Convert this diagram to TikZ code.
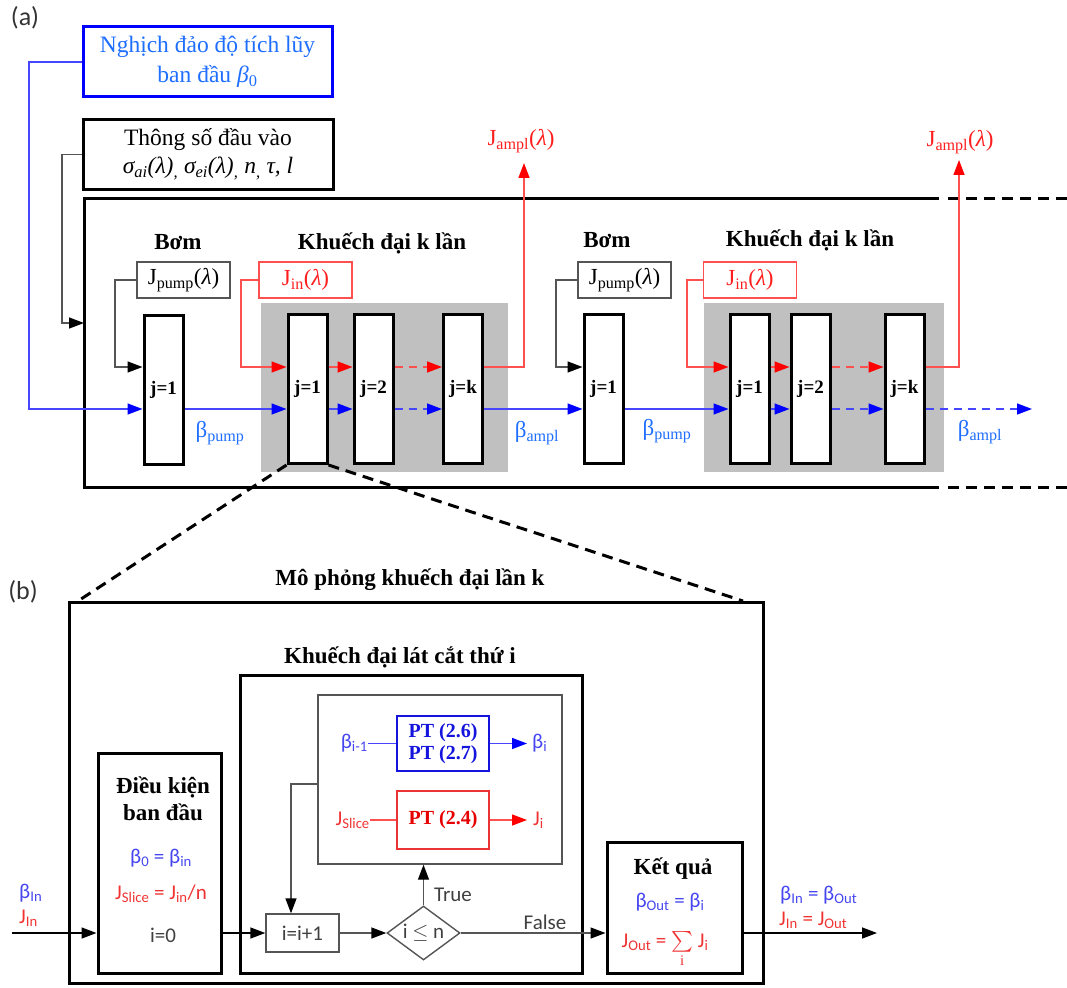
\documentclass[tikz,border=0pt]{standalone}
\usepackage{amsmath}
\usepackage{fontspec}
\setmainfont{Liberation Serif}
\newfontfamily\calib{Carlito}
\usetikzlibrary{arrows.meta,shapes.geometric}
\definecolor{bl}{RGB}{70,70,255}
\definecolor{bhead}{RGB}{0,0,255}
\definecolor{tbl}{RGB}{30,110,255}
\definecolor{rl}{RGB}{255,80,80}
\definecolor{rhead}{RGB}{255,0,0}
\definecolor{trd}{RGB}{255,30,30}
\definecolor{gl}{RGB}{85,85,85}
\definecolor{shd}{RGB}{192,192,192}
\definecolor{sbl}{RGB}{70,70,240}
\definecolor{srd}{RGB}{240,50,50}
\definecolor{ptb}{RGB}{20,20,220}
\definecolor{ptr}{RGB}{230,0,0}
\tikzset{
 bf/.style={font=\fontsize{23}{26}\selectfont\bfseries, inner sep=0pt},
 jbox/.style={draw, line width=3pt, fill=white, minimum width=39pt, minimum height=149pt, inner sep=0pt, font=\fontsize{19}{22}\selectfont\bfseries},
 thinbox/.style={draw=gl, line width=1.4pt, inner sep=0pt, minimum width=93pt, minimum height=36pt, font=\fontsize{23}{26}\selectfont},
 redbox/.style={thinbox, draw=rl, text=trd},
 bline/.style={draw=bl, line width=1.4pt},
 barr/.style={bline, -{Triangle[length=15pt,width=11pt,color=bhead]}},
 rline/.style={draw=rl, line width=1.4pt},
 rarr/.style={rline, -{Triangle[length=15pt,width=11pt,color=rhead]}},
 garr/.style={draw=gl, line width=1.4pt, -{Triangle[length=15pt,width=11pt,color=black]}},
 karr/.style={draw=black, line width=1.5pt, -{Triangle[length=15pt,width=11pt,color=black]}},
 dsh/.style={dash pattern=on 8pt off 6pt},
 bigdash/.style={line width=3pt, dash pattern=on 11pt off 7pt},
 serlab/.style={font=\fontsize{23}{26}\selectfont, inner sep=0pt},
 sanslab/.style={font=\calib\fontsize{21}{24}\selectfont, inner sep=0pt},
 thick3/.style={draw, line width=3pt, inner sep=0pt},
}
\begin{document}
\begin{tikzpicture}[x=1pt,y=-1pt]
\useasboundingbox (0,0) rectangle (1067,987);
% ---------------- part (a) ----------------
\node[font=\calib\fontsize{26}{30}\selectfont, text=black!80, inner sep=0pt] (la) at (25,18) {(a)};
\node[thick3, draw=bhead, minimum width=249pt, minimum height=70pt, align=center, text=tbl, font=\fontsize{23.5}{30}\selectfont] (init) at (207.5,62) {Nghịch đảo độ tích lũy\\ban đầu \textit{β}\textsubscript{0}};
\node[thick3, minimum width=250pt, minimum height=69pt, align=center, font=\fontsize{23.5}{28}\selectfont] (param) at (208,154.5) {Thông số đầu vào\\{\itshape σ\textsubscript{ai}(λ)\textsubscript{,} σ\textsubscript{ei}(λ)\textsubscript{,} n\textsubscript{,} τ, l}};
\draw[line width=3pt] (939,198) -- (84,198) -- (84,487) -- (939,487);
\draw[bigdash] (948,198) -- (1067,198);
\draw[bigdash] (948,487) -- (1067,487);
\coordinate (fl) at (84,323);
\coordinate (yb) at (0,409);
\coordinate (yr) at (0,367);
\fill[shd] (261,303) rectangle (508,472);
\fill[shd] (704,303) rectangle (944,472);
\node[jbox] (p1) at (163.5,389.5) {j=1};
\node[jbox] (a11) at (307.5,389) {j=1};
\node[jbox] (a12) at (373.5,389) {j=2};
\node[jbox] (a1k) at (463,389) {j=k};
\node[jbox] (p2) at (603.5,389) {j=1};
\node[jbox] (a21) at (749.5,389) {j=1};
\node[jbox] (a22) at (810.5,389) {j=2};
\node[jbox] (a2k) at (904.5,389) {j=k};
\node[thinbox] (jp1) at (183.5,280) {J\textsubscript{pump}(\textit{λ})};
\node[redbox] (jin1) at (305.5,280) {J\textsubscript{in}(\textit{λ})};
\node[thinbox] (jp2) at (624.5,280) {J\textsubscript{pump}(\textit{λ})};
\node[redbox] (jin2) at (750,280) {J\textsubscript{in}(\textit{λ})};
\node[bf] (t1) at (178,242) {Bơm};
\node[bf] (t2) at (382,243) {Khuếch đại k lần};
\node[bf] (t3) at (607,240) {Bơm};
\node[bf] (t4) at (810,240) {Khuếch đại k lần};
\draw[barr] (init.west) -- (29,62) |- (p1.west |- yb);
\draw[garr] (param.west) -- (62,154.5) |- (fl);
\draw[garr] (jp1.west) -- (115,280) |- (p1.west |- yr);
\draw[rarr] (jin1.west) -- (241,280) |- (a11.west |- yr);
\draw[barr] (p1.east |- yb) -- (a11.west |- yb);
\draw[barr] (a11.east |- yb) -- (a12.west |- yb);
\draw[barr,dsh] (a12.east |- yb) -- (a1k.west |- yb);
\draw[barr] (a1k.east |- yb) -- (p2.west |- yb);
\draw[rarr] (a11.east |- yr) -- (a12.west |- yr);
\draw[rarr,dsh] (a12.east |- yr) -- (a1k.west |- yr);
\coordinate (ja1) at (524,163);
\draw[rarr] (a1k.east |- yr) -| (ja1);
\node[serlab, text=trd] (jl1) at (521,141) {J\textsubscript{ampl}(\textit{λ})};
\draw[garr] (jp2.west) -- (556,280) |- (p2.west |- yr);
\draw[rarr] (jin2.west) -- (687,280) |- (a21.west |- yr);
\draw[barr] (p2.east |- yb) -- (a21.west |- yb);
\draw[barr] (a21.east |- yb) -- (a22.west |- yb);
\draw[barr,dsh] (a22.east |- yb) -- (a2k.west |- yb);
\coordinate (bend) at (1032,409);
\draw[barr,dsh] (a2k.east |- yb) -- (bend);
\draw[rarr] (a21.east |- yr) -- (a22.west |- yr);
\draw[rarr,dsh] (a22.east |- yr) -- (a2k.west |- yr);
\coordinate (ja2) at (959,160);
\draw[rarr] (a2k.east |- yr) -| (ja2);
\node[serlab, text=trd] (jl2) at (960,142) {J\textsubscript{ampl}(\textit{λ})};
\node[serlab, text=tbl] (bp1) at (220,433) {β\textsubscript{pump}};
\node[serlab, text=tbl] (ba1) at (537,433) {β\textsubscript{ampl}};
\node[serlab, text=tbl] (bp2) at (667,431) {β\textsubscript{pump}};
\node[serlab, text=tbl] (ba2) at (980,432) {β\textsubscript{ampl}};
\coordinate (bl) at (78,601);
\coordinate (br) at (743,601);
\draw[bigdash] (a11.south west) -- (bl);
\draw[bigdash] (a11.south east) -- (br);
% ---------------- part (b) ----------------
\node[font=\calib\fontsize{26}{30}\selectfont, text=black!80, inner sep=0pt] (lb) at (23,592) {(b)};
\node[bf] (tb) at (410,580) {Mô phỏng khuếch đại lần k};
\node[thick3, minimum width=694pt, minimum height=381pt] (bfr) at (416,792.5) {};
\node[bf] (tk) at (400,657) {Khuếch đại lát cắt thứ i};
\node[thick3, minimum width=342pt, minimum height=298pt] (kd) at (411,824) {};
\node[draw=gl, line width=1.4pt, inner sep=0pt, minimum width=244pt, minimum height=169pt] (inner) at (440,779.5) {};
\node[draw=ptb, line width=1.4pt, inner sep=0pt, minimum width=92pt, minimum height=55pt, align=center, text=ptb, font=\fontsize{20}{22}\selectfont\bfseries] (pt1) at (443,743.5) {PT (2.6)\\PT (2.7)};
\node[draw=ptr!80, line width=1.4pt, inner sep=0pt, minimum width=92pt, minimum height=58pt, text=ptr, font=\fontsize{20}{22}\selectfont\bfseries] (pt2) at (443,820) {PT (2.4)};
\node[sanslab, text=sbl, anchor=east] (bim) at (368,743.5) {β\textsubscript{i-1}};
\draw[bline] (bim.east) -- (pt1.west);
\coordinate (bo) at (527,743.5);
\draw[barr] (pt1.east) -- (bo);
\node[sanslab, text=sbl, anchor=west] (bi) at (532,743.5) {β\textsubscript{i}};
\node[sanslab, text=srd, anchor=east] (js) at (370,820) {J\textsubscript{Slice}};
\draw[rline] (js.east) -- (pt2.west);
\coordinate (jo) at (527,820);
\draw[rarr] (pt2.east) -- (jo);
\node[sanslab, text=srd, anchor=west] (ji) at (533,820) {J\textsubscript{i}};
\node[draw=gl, line width=1.4pt, inner sep=0pt, minimum width=73pt, minimum height=38pt, font=\calib\fontsize{21}{24}\selectfont, text=black!75] (inc) at (302.5,933) {i=i+1};
\node[diamond, draw=gl, line width=1.4pt, inner sep=0pt, minimum width=73pt, minimum height=54pt, aspect=1.35, font=\calib\fontsize{21}{24}\selectfont, text=black!75] (cond) at (423.5,933) {i $\leq$ n};
\node[thick3, minimum width=123pt, minimum height=220pt] (dk) at (159.5,863) {};
\node[thick3, minimum width=135pt, minimum height=131pt] (kq) at (674.5,907.5) {};
\node[bf] (dk1) at (163,787) {Điều kiện};
\node[bf] (dk2) at (163,812) {ban đầu};
\node[sanslab, text=sbl] (dk3) at (161,858) {β\textsubscript{0} = β\textsubscript{in}};
\node[sanslab, text=srd] (dk4) at (161,894) {J\textsubscript{Slice} = J\textsubscript{in}/n};
\node[sanslab, text=black!75] (dk5) at (163,935) {i=0};
\node[bf] (kq1) at (673,869) {Kết quả};
\node[sanslab, text=sbl] (kq2) at (670,902) {β\textsubscript{Out} = β\textsubscript{i}};
\node[sanslab, text=srd] (kq3) at (665,942) {J\textsubscript{Out} = $\smash{\sum\limits_{\mathrm{i}}}$ J\textsubscript{i}};
\coordinate (yin) at (12,933);
\draw[karr] (yin) -- (dk.west |- yin);
\draw[karr] (dk.east |- yin) -- (inc.west);
\draw[garr] (inc.east) -- (cond.west);
\draw[garr] (cond.north) -- (cond.north |- inner.south);
\coordinate (lpx) at (291,784);
\draw[garr] (inner.west |- lpx) -| (inc.north -| lpx);
\draw[garr] (cond.east) -- (kq.west |- cond.east);
\coordinate (yout) at (877,933);
\draw[karr] (kq.east |- yout) -- (yout);
\node[sanslab, text=black!75] (tr) at (453,895) {True};
\node[sanslab, text=black!75] (fa) at (545,922) {False};
\node[sanslab, text=sbl, anchor=west] (bin) at (19,893) {β\textsubscript{In}};
\node[sanslab, text=srd, anchor=west] (jin) at (19,918) {J\textsubscript{In}};
\node[sanslab, text=sbl, anchor=west] (bout) at (780,895) {β\textsubscript{In} = β\textsubscript{Out}};
\node[sanslab, text=srd, anchor=west] (jout) at (779,920) {J\textsubscript{In} = J\textsubscript{Out}};
\end{tikzpicture}
\end{document}
